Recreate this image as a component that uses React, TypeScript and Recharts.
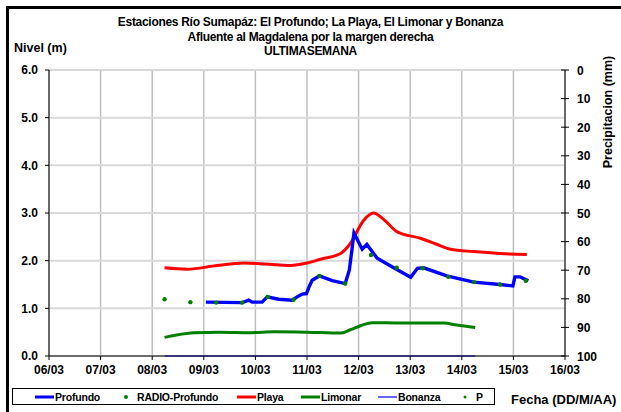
import { ComposedChart, Line, XAxis, YAxis, CartesianGrid } from 'recharts';

// dias desde 06/03 (0) hasta 16/03 (10)
const dateLabels = ['06/03', '07/03', '08/03', '09/03', '10/03', '11/03', '12/03', '13/03', '14/03', '15/03', '16/03'];
const levelTicks = [0, 1, 2, 3, 4, 5, 6];
const rainTicks = [0, 10, 20, 30, 40, 50, 60, 70, 80, 90, 100];

const profundoDays = [3.04, 3.75, 3.87, 3.94, 4.13, 4.23, 4.45, 4.71, 4.84, 4.91, 4.99, 5.04, 5.10, 5.24, 5.49, 5.74, 5.82, 5.87, 5.91, 6.07, 6.16, 6.36, 6.68, 7.01, 7.14, 7.26, 7.71, 8.23, 8.74, 8.99, 9.03, 9.13, 9.29];
const profundoLevels = [1.13, 1.12, 1.17, 1.13, 1.13, 1.24, 1.19, 1.17, 1.26, 1.30, 1.31, 1.45, 1.59, 1.68, 1.58, 1.52, 1.80, 2.22, 2.58, 2.24, 2.34, 2.05, 1.85, 1.65, 1.84, 1.85, 1.68, 1.55, 1.50, 1.47, 1.66, 1.66, 1.58];

const radioDays = [2.24, 2.74, 3.24, 3.74, 4.24, 4.74, 5.24, 5.74, 6.24, 6.74, 7.24, 7.74, 8.24, 8.74, 9.24];
const radioLevels = [1.19, 1.13, 1.12, 1.12, 1.24, 1.18, 1.68, 1.52, 2.12, 1.85, 1.84, 1.66, 1.55, 1.50, 1.58];

const playaDays = [2.24, 2.68, 3.26, 3.78, 4.2, 4.68, 5.0, 5.26, 5.65, 5.84, 6.1, 6.29, 6.49, 6.74, 7.2, 7.5, 7.78, 8.23, 8.74, 9.26];
const playaLevels = [1.85, 1.82, 1.9, 1.95, 1.93, 1.9, 1.95, 2.03, 2.15, 2.36, 2.85, 3.0, 2.86, 2.61, 2.47, 2.35, 2.24, 2.19, 2.15, 2.13];

const limonarDays = [2.24, 2.81, 3.3, 3.91, 4.36, 5.0, 5.65, 5.84, 6.05, 6.26, 6.81, 7.65, 7.9, 8.26];
const limonarLevels = [0.39, 0.49, 0.5, 0.49, 0.51, 0.5, 0.48, 0.55, 0.64, 0.7, 0.69, 0.69, 0.65, 0.6];

const bonanzaDays = [2.24, 8.26];
const bonanzaLevels = [0, 0];

// precipitacion P: sin lluvia registrada en la semana
const pDays = [2.24, 8.26];
const pRain = [0, 0];

const toRows = (days: number[], vals: number[]) => days.map((d, i) => ({ d, v: vals[i] }));

const font = '"Liberation Sans", Arial, sans-serif';
const tickStyle = { fontFamily: font, fontWeight: 700, fontSize: 12, fill: '#000' };

const RainTick = (props: any) => {
    const { x, y, payload } = props;
    return (
        <g>
            <line x1={x - 4} y1={y} x2={x + 4} y2={y} stroke='#000' strokeWidth={1} />
            <text x={x + 12} y={y} dy={4.5} textAnchor='start' {...tickStyle}>
                {payload.value}
            </text>
        </g>
    );
};

const legendItems = [
    { label: 'Profundo', kind: 'line', color: '#0000ff', w: 3, x: 35 },
    { label: 'RADIO-Profundo', kind: 'dot', color: '#008000', w: 4, x: 122 },
    { label: 'Playa', kind: 'line', color: '#ff0000', w: 3, x: 237 },
    { label: 'Limonar', kind: 'line', color: '#008000', w: 3, x: 301 },
    { label: 'Bonanza', kind: 'line', color: '#0000ff', w: 1.2, x: 378 },
    { label: 'P', kind: 'dot', color: '#008000', w: 3, x: 461 },
];

export default function App() {
    return (
        <div style={{ position: 'absolute', left: 0, top: 0, width: 621, height: 412, background: '#fff', fontFamily: font, overflow: 'hidden' }}>
            <div style={{ position: 'absolute', left: 6, top: 6, width: 640, height: 420, borderLeft: '3px solid #000', borderTop: '3px solid #000' }} />
            <div style={{ position: 'absolute', left: 0, top: 15, width: 621, textAlign: 'center', fontWeight: 700, fontSize: 12, lineHeight: '14.5px', letterSpacing: -0.3 }}>
                <div>Estaciones Río Sumapáz: El Profundo; La Playa, El Limonar y Bonanza</div>
                <div>Afluente al Magdalena por la margen derecha</div>
                <div>ULTIMASEMANA</div>
            </div>
            <div style={{ position: 'absolute', left: 14, top: 41, fontWeight: 700, fontSize: 12.5 }}>Nivel (m)</div>
            <div style={{ position: 'absolute', left: 608, top: 112, fontWeight: 700, fontSize: 12.5, transform: 'translate(-50%, -50%) rotate(-90deg)', whiteSpace: 'nowrap' }}>
                Precipitacion (mm)
            </div>
            <div style={{ position: 'absolute', left: 511, top: 392, fontWeight: 700, fontSize: 13 }}>Fecha (DD/M/AA)</div>

            <div style={{ position: 'absolute', left: 0, top: 0 }}>
                <ComposedChart width={621} height={412} margin={{ top: 70, right: 16, bottom: 26, left: 9 }}>
                    <CartesianGrid yAxisId='left' horizontal={false} stroke='#c0c0c0' strokeWidth={1.5} />
                    <CartesianGrid yAxisId='left' vertical={false} stroke='#d9d9d9' strokeWidth={2} />
                    <XAxis
                        type='number'
                        dataKey='d'
                        domain={[0, 10]}
                        ticks={dateLabels.map((_, i) => i)}
                        tickFormatter={(v: number) => dateLabels[v]}
                        stroke='#000'
                        tickSize={4}
                        tickMargin={5}
                        tick={tickStyle}
                        height={30}
                        allowDataOverflow
                    />
                    <YAxis
                        yAxisId='left'
                        domain={[0, 6]}
                        ticks={levelTicks}
                        tickFormatter={(v: number) => v.toFixed(1)}
                        stroke='#000'
                        tickSize={4}
                        tickMargin={7}
                        tick={tickStyle}
                        width={40}
                    />
                    <YAxis
                        yAxisId='right'
                        orientation='right'
                        reversed
                        domain={[0, 100]}
                        ticks={rainTicks}
                        stroke='#000'
                        tickLine={false}
                        tickSize={0}
                        tickMargin={0}
                        tick={<RainTick />}
                        width={40}
                    />
                    <Line yAxisId='right' data={toRows(pDays, pRain)} dataKey='v' stroke='none' dot={false} isAnimationActive={false} />
                    <Line yAxisId='left' data={toRows(bonanzaDays, bonanzaLevels)} dataKey='v' stroke='#0000ff' strokeWidth={1.2} dot={false} isAnimationActive={false} />
                    <Line yAxisId='left' data={toRows(limonarDays, limonarLevels)} dataKey='v' type='monotone' stroke='#008000' strokeWidth={3} dot={false} isAnimationActive={false} />
                    <Line yAxisId='left' data={toRows(playaDays, playaLevels)} dataKey='v' type='monotone' stroke='#ff0000' strokeWidth={3} dot={false} isAnimationActive={false} />
                    <Line yAxisId='left' data={toRows(profundoDays, profundoLevels)} dataKey='v' stroke='#0000ff' strokeWidth={3.4} dot={false} isAnimationActive={false} />
                    <Line
                        yAxisId='left'
                        data={toRows(radioDays, radioLevels)}
                        dataKey='v'
                        stroke='none'
                        dot={{ r: 2.2, fill: '#008000', stroke: 'none' }}
                        isAnimationActive={false}
                    />
                </ComposedChart>
            </div>

            <div style={{ position: 'absolute', left: 12, top: 388, width: 481, height: 15, border: '1px solid #000' }} />
            {legendItems.map((it) => (
                <div
                    key={it.label}
                    style={{ position: 'absolute', left: it.x, top: 389, height: 15, display: 'flex', alignItems: 'center', fontWeight: 700, fontSize: 10.5, letterSpacing: -0.2, whiteSpace: 'nowrap' }}
                >
                    {it.kind === 'line' ? (
                        <svg width={19} height={8} style={{ marginRight: 1 }}>
                            <line x1={0} y1={4} x2={19} y2={4} stroke={it.color} strokeWidth={it.w} />
                        </svg>
                    ) : (
                        <svg width={8} height={8} style={{ marginRight: 7 }}>
                            <circle cx={4} cy={4} r={it.w / 2} fill={it.color} />
                        </svg>
                    )}
                    {it.label}
                </div>
            ))}
        </div>
    );
}
